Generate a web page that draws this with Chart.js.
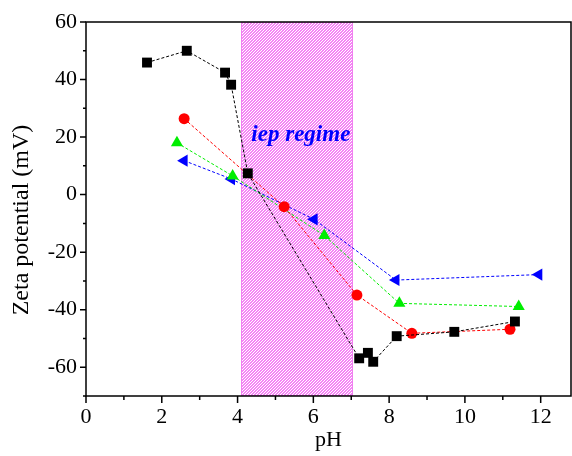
<!DOCTYPE html>
<html><head><meta charset="utf-8">
<script src="https://cdn.jsdelivr.net/npm/chart.js@4"></script>
<style>html,body{margin:0;padding:0;background:#fff}</style>
</head><body>
<canvas id="c" width="572" height="456"></canvas>
<script>
// ---- data ----
const blackX = [1.61, 2.66, 3.67, 3.83, 4.27, 7.21, 7.44, 7.58, 8.2, 9.72, 11.32];
const blackY = [45.9, 50.0, 42.4, 38.2, 7.4, -56.9, -55.0, -58.1, -49.2, -47.7, -44.1];
const redX = [2.59, 5.23, 7.15, 8.6, 11.19];
const redY = [26.4, -4.2, -34.9, -48.2, -46.8];
const greenX = [2.4, 3.87, 6.29, 8.27, 11.42];
const greenY = [18.0, 6.5, -14.2, -37.8, -38.9];
const blueX = [2.59, 3.84, 6.02, 8.18, 11.95];
const blueY = [11.8, 5.4, -8.6, -29.7, -27.8];
const iepRegime = [4.1, 7.05];          // shaded pH range
const iepLabel = 'iep regime';
const xTitle = 'pH';
const yTitle = 'Zeta potential (mV)';

const pts = (xs, ys) => xs.map((x, i) => ({x, y: ys[i]}));
const FONT = "'Liberation Serif'";

function hatchPattern(ctx) {
  const n = 3;
  const t = document.createElement('canvas');
  t.width = n; t.height = n;
  const g = t.getContext('2d');
  g.fillStyle = '#f584f5';
  g.fillRect(0, 0, n, n);
  g.fillStyle = '#ffffff';
  for (let i = 0; i < n; i++) g.fillRect(i, n - 1 - i, 1, 1);
  return ctx.createPattern(t, 'repeat');
}

const decor = {
  id: 'decor',
  beforeDatasetsDraw(chart) {
    const {ctx, scales: {x, y}, chartArea: a} = chart;
    const x0 = Math.round(x.getPixelForValue(iepRegime[0]));
    const x1 = Math.round(x.getPixelForValue(iepRegime[1]));
    ctx.save();
    ctx.fillStyle = hatchPattern(ctx);
    ctx.fillRect(x0, a.top, x1 - x0, a.bottom - a.top);
    ctx.strokeStyle = '#f080f0';
    ctx.lineWidth = 1;
    ctx.strokeRect(x0 + 0.5, a.top + 0.5, x1 - x0 - 1, a.bottom - a.top - 1);
    ctx.fillStyle = '#0000ff';
    ctx.font = "italic bold 23px " + FONT;
    ctx.textAlign = 'center';
    ctx.textBaseline = 'alphabetic';
    ctx.fillText(iepLabel, x.getPixelForValue(5.67), y.getPixelForValue(18.5));
    ctx.restore();
  },
  afterDraw(chart) {
    const {ctx, scales: {x, y}, chartArea: a} = chart;
    ctx.save();
    ctx.strokeStyle = '#000';
    ctx.lineWidth = 1.5;
    ctx.strokeRect(a.left, a.top, a.right - a.left, a.bottom - a.top);
    ctx.beginPath();
    for (let v = 0; v <= 12; v += 1) {
      const p = x.getPixelForValue(v);
      const len = v % 2 === 0 ? 7 : 4;
      ctx.moveTo(p, a.bottom); ctx.lineTo(p, a.bottom + len);
    }
    for (let v = -70; v <= 60; v += 10) {
      const p = y.getPixelForValue(v);
      const len = v % 20 === 0 ? 6 : 3;
      ctx.moveTo(a.left, p); ctx.lineTo(a.left - len, p);
    }
    ctx.stroke();
    // y-axis title (sits slightly below the axis centre, as in the reference)
    ctx.translate(22, (a.top + a.bottom) / 2 + 11);
    ctx.rotate(-Math.PI / 2);
    ctx.fillStyle = '#000';
    ctx.font = "24px " + FONT;
    ctx.textAlign = 'center';
    ctx.textBaseline = 'middle';
    ctx.fillText(yTitle, 0, 0);
    ctx.restore();
  }
};

function ds(label, xs, ys, color, style, radius, rotation) {
  return {
    label, data: pts(xs, ys), showLine: true,
    borderColor: color, backgroundColor: color, borderWidth: 1,
    borderDash: [3, 2],
    pointStyle: style, pointRadius: radius, pointHoverRadius: radius,
    pointRotation: rotation || 0,
    pointBackgroundColor: color, pointBorderColor: color, pointBorderWidth: 0
  };
}

const fixY = s => { s.width = 86; s.paddingTop = 0; s.paddingBottom = 0; s.paddingLeft = 0; s.paddingRight = 0; };
const fixX = s => { s.height = 60; s.paddingTop = 0; s.paddingBottom = 0; s.paddingLeft = 0; s.paddingRight = 0; };

new Chart(document.getElementById('c'), {
  type: 'scatter',
  data: {
    datasets: [
      ds('black', blackX, blackY, '#000000', 'rect', 7),
      ds('red', redX, redY, '#ff0000', 'circle', 5.5),
      ds('green', greenX, greenY, '#00ee00', 'triangle', 7),
      ds('blue', blueX, blueY, '#0000ff', 'triangle', 7, -90)
    ]
  },
  options: {
    responsive: false, animation: false,
    layout: {autoPadding: false, padding: {top: 22, right: 1, left: 0, bottom: 0}},
    plugins: {legend: {display: false}, tooltip: {enabled: false}},
    scales: {
      x: {
        type: 'linear', min: 0, max: 12.8,
        grid: {display: false, drawTicks: false},
        border: {display: false},
        ticks: {stepSize: 2, includeBounds: false, padding: 8, color: '#000',
                font: {family: FONT, size: 22}, maxRotation: 0,
                callback: v => (v % 2 === 0 ? v : '')},
        title: {display: true, text: xTitle, color: '#000', font: {family: FONT, size: 22}, padding: {top: 0, bottom: 3}},
        afterFit: fixX
      },
      y: {
        type: 'linear', min: -70, max: 60,
        grid: {display: false, drawTicks: false},
        border: {display: false},
        ticks: {stepSize: 20, includeBounds: false, padding: 9, color: '#000',
                font: {family: FONT, size: 22},
                callback: v => (v % 20 === 0 ? v : '')},
        title: {display: false, text: yTitle},
        afterFit: fixY
      }
    }
  },
  plugins: [decor]
});
</script>
</body></html>
